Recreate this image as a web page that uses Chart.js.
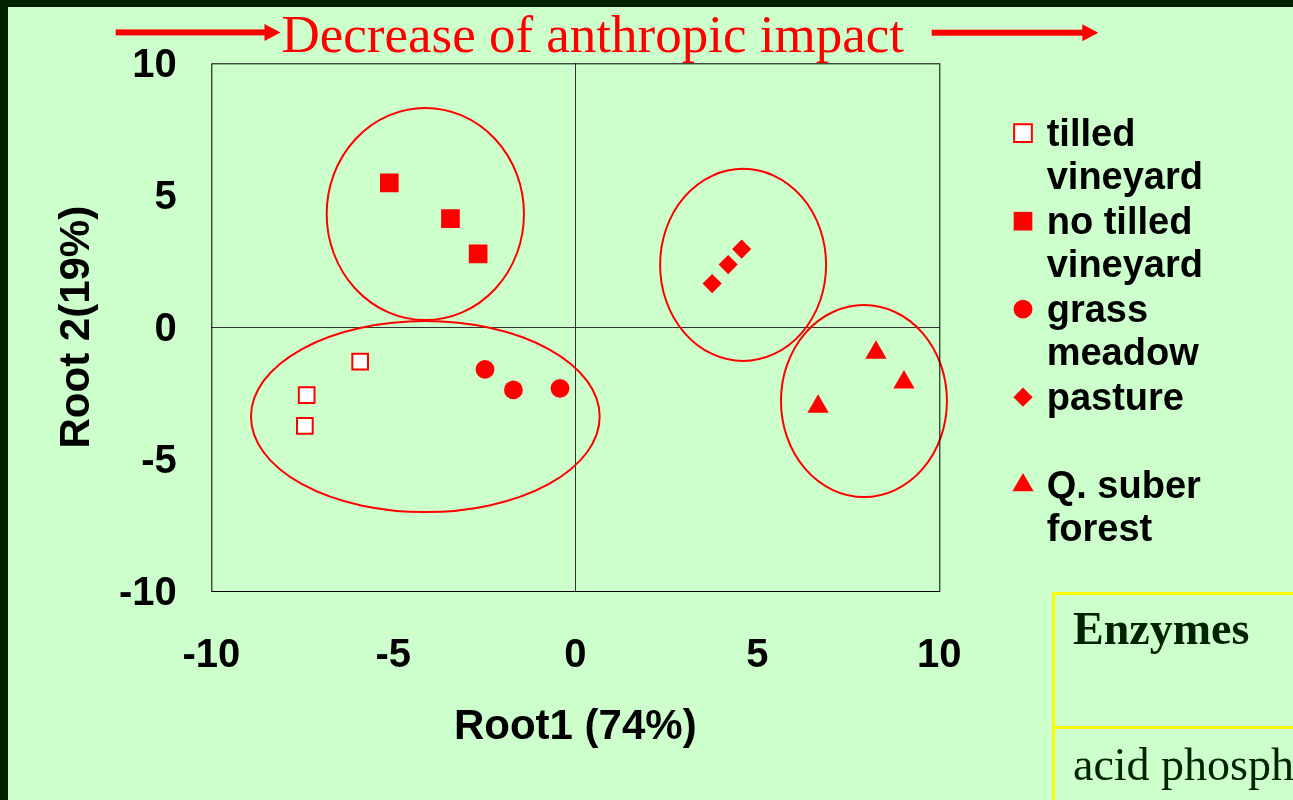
<!DOCTYPE html>
<html>
<head>
<meta charset="utf-8">
<script src="https://cdn.jsdelivr.net/npm/chart.js@4/dist/chart.umd.min.js"></script>
<style>
  html, body { margin: 0; padding: 0; width: 1293px; height: 800px; overflow: hidden; background: #002200; }
  #panel { position: absolute; left: 8px; top: 7px; width: 1285px; height: 793px; background: #ccffcc; overflow: hidden; }
  #chart { position: absolute; left: 0; top: 0; }
  #enzymes { position: absolute; left: 1044px; top: 585px; width: 400px; height: 300px;
             border-left: 3px solid #ffff00; border-top: 3px solid #ffff00; }
  #enzymes .rule { position: absolute; left: 0; top: 131px; width: 100%; height: 3px; background: #ffff00; }
  #enzymes .cell { position: absolute; left: 18px; font-family: 'Liberation Serif', 'Times New Roman', serif;
                   font-size: 46px; line-height: 46px; color: #002200; white-space: nowrap; }
</style>
</head>
<body>
<div id="panel">
  <canvas id="chart" width="1285" height="793"></canvas>
  <div id="enzymes">
    <div class="cell" style="top:11px;font-weight:bold;">Enzymes</div>
    <div class="rule"></div>
    <div class="cell" style="top:147px;">acid phosphatase</div>
  </div>
</div>
<script>
// Valori (Root1 = asse x, Root 2 = asse y)
const seriesNames = [['tilled', 'vineyard'], ['no tilled', 'vineyard'], ['grass', 'meadow'], ['pasture', ''], ['Q. suber', 'forest']];
const tilledX = [-7.38, -7.43, -5.91];
const tilledY = [-2.58, -3.74, -1.31];
const noTilledX = [-5.11, -3.43, -2.67];
const noTilledY = [5.47, 4.11, 2.78];
const grassX = [-2.48, -1.70, -0.42];
const grassY = [-1.60, -2.38, -2.32];
const pastureX = [3.76, 4.20, 4.57];
const pastureY = [1.65, 2.37, 2.96];
const suberX = [8.26, 9.03, 6.67];
const suberY = [-0.96, -2.09, -3.01];

const xTicks = [-10, -5, 0, 5, 10];
const yTicks = [-10, -5, 0, 5, 10];

// gruppi (ellissi) in unità dei dati
const ellipseCx = [-4.12, -4.12, 4.61, 7.93];
const ellipseCy = [4.29, -3.39, 2.36, -2.80];
const ellipseRx = [2.71, 4.79, 2.28, 2.28];
const ellipseRy = [4.02, 3.62, 3.64, 3.64];

const titleText = 'Decrease of anthropic impact';
const xTitle = 'Root1 (74%)';
const yTitle = 'Root 2(19%)';

const RED = '#ff0000';
const SANS = "'Liberation Sans', Arial, sans-serif";
const SERIF = "'Liberation Serif', 'Times New Roman', serif";

function pts(xs, ys) {
    return xs.map((x, i) => ({ x: x, y: ys[i] }));
}

const ellipsePlugin = {
    id: 'ellipses',
    beforeDatasetsDraw(chart) {
        const { ctx, scales: { x, y } } = chart;
        ctx.save();
        ctx.strokeStyle = RED;
        ctx.lineWidth = 2;
        ellipseCx.forEach((cx, i) => {
            const px = x.getPixelForValue(cx);
            const py = y.getPixelForValue(ellipseCy[i]);
            const rx = Math.abs(x.getPixelForValue(cx + ellipseRx[i]) - px);
            const ry = Math.abs(y.getPixelForValue(ellipseCy[i] + ellipseRy[i]) - py);
            ctx.beginPath();
            ctx.ellipse(px, py, rx, ry, 0, 0, Math.PI * 2);
            ctx.stroke();
        });
        ctx.restore();
    }
};

const framePlugin = {
    id: 'frame',
    afterDatasetsDraw(chart) {
        const { ctx, chartArea: a } = chart;
        ctx.save();
        ctx.strokeStyle = '#000';
        ctx.lineWidth = 1;
        ctx.strokeRect(a.left + 0.5, a.top + 0.5, a.right - a.left, a.bottom - a.top);
        ctx.restore();
    }
};

function arrow(ctx, x0, x1, y) {
    ctx.fillRect(x0, y - 3, x1 - x0 - 14, 6);
    ctx.beginPath();
    ctx.moveTo(x1 - 16, y - 8.5);
    ctx.lineTo(x1, y);
    ctx.lineTo(x1 - 16, y + 8.5);
    ctx.closePath();
    ctx.fill();
}

const decorPlugin = {
    id: 'decor',
    afterDraw(chart) {
        const ctx = chart.ctx;
        ctx.save();
        // titolo con frecce
        ctx.fillStyle = RED;
        ctx.font = '53px ' + SERIF;
        ctx.textBaseline = 'alphabetic';
        ctx.textAlign = 'left';
        ctx.fillText(titleText, 273.5, 44.5);
        arrow(ctx, 107.7, 272.5, 25.4);
        arrow(ctx, 923.7, 1090.3, 25.7);

        // legenda
        const lx = 1015, tx = 1038.7, top = 138.7;
        chart.data.datasets.forEach((ds, i) => {
            const base = top + 88 * i;
            ctx.fillStyle = ds.backgroundColor;
            ctx.strokeStyle = ds.borderColor;
            ctx.lineWidth = ds.borderWidth;
            const r = ds.pointStyle === 'rect' && ds.borderWidth ? ds.pointRadius * 1.13 : ds.pointRadius;
            Chart.helpers.drawPoint(ctx, {
                pointStyle: ds.pointStyle, radius: r, rotation: 0, borderWidth: ds.borderWidth
            }, lx, base - 12.5);
            ctx.fillStyle = '#000';
            ctx.font = 'bold 38px ' + SANS;
            seriesNames[i].forEach((line, j) => ctx.fillText(line, tx, base + 43.5 * j));
        });
        ctx.restore();
    }
};

const tickFont = { family: SANS, size: 40, weight: 'bold' };
const titleFont = { family: SANS, size: 42, weight: 'bold' };

new Chart(document.getElementById('chart'), {
    type: 'scatter',
    data: {
        datasets: [
            { label: seriesNames[0].join(' '), data: pts(tilledX, tilledY), pointStyle: 'rect', pointRadius: 11.1,
              backgroundColor: '#ffffff', borderColor: RED, borderWidth: 2 },
            { label: seriesNames[1].join(' '), data: pts(noTilledX, noTilledY), pointStyle: 'rect', pointRadius: 13.2,
              backgroundColor: RED, borderColor: RED, borderWidth: 0 },
            { label: seriesNames[2].join(' '), data: pts(grassX, grassY), pointStyle: 'circle', pointRadius: 9.4,
              backgroundColor: RED, borderColor: RED, borderWidth: 0 },
            { label: seriesNames[3].join(' '), data: pts(pastureX, pastureY), pointStyle: 'rectRot', pointRadius: 9.6,
              backgroundColor: RED, borderColor: RED, borderWidth: 0 },
            { label: seriesNames[4].join(' '), data: pts(suberX, suberY), pointStyle: 'triangle', pointRadius: 12.3,
              backgroundColor: RED, borderColor: RED, borderWidth: 0 }
        ]
    },
    options: {
        responsive: false,
        animation: false,
        events: [],
        layout: { padding: { left: 0, top: 56.3, right: 353.7, bottom: 0 } },
        plugins: {
            legend: { display: false },
            tooltip: { enabled: false },
            title: { display: false }
        },
        scales: {
            x: {
                type: 'linear', min: -10, max: 10,
                afterBuildTicks: s => { s.ticks = xTicks.map(v => ({ value: v })); },
                afterFit: s => { s.height = 209; s.paddingLeft = 0; s.paddingRight = 0; },
                ticks: { font: tickFont, color: '#000', padding: 41, maxRotation: 0 },
                grid: { drawTicks: false, lineWidth: 1,
                        color: c => (c.tick && c.tick.value === 0) ? '#333333' : 'rgba(0,0,0,0)' },
                border: { display: false },
                title: { display: true, text: xTitle, font: titleFont, color: '#000', padding: { top: 0, bottom: 47 } }
            },
            y: {
                type: 'linear', min: -10, max: 10,
                afterBuildTicks: s => { s.ticks = yTicks.map(v => ({ value: v })); },
                afterFit: s => { s.width = 203.3; s.paddingTop = 0; s.paddingBottom = 0; },
                ticks: { font: tickFont, color: '#000', padding: 34.5, labelOffset: 3 },
                grid: { drawTicks: false, lineWidth: 1,
                        color: c => (c.tick && c.tick.value === 0) ? '#333333' : 'rgba(0,0,0,0)' },
                border: { display: false },
                title: { display: true, text: yTitle, font: titleFont, color: '#000', padding: { top: 44, bottom: 0 } }
            }
        }
    },
    plugins: [ellipsePlugin, framePlugin, decorPlugin]
});
</script>
</body>
</html>
